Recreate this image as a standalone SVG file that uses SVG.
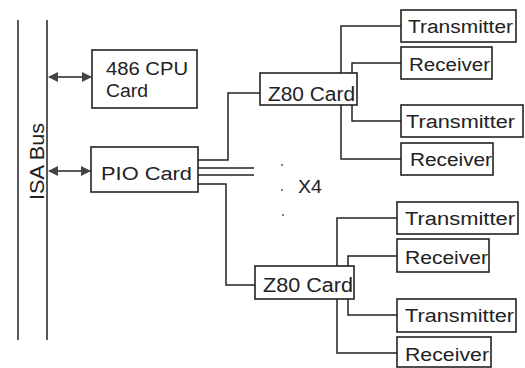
<svg xmlns="http://www.w3.org/2000/svg" width="525" height="368" viewBox="0 0 525 368">
<defs>
<style>
.bx{fill:#fff;stroke:#222;stroke-width:1.6}
.ln{fill:none;stroke:#222;stroke-width:1.5}
.t{font-family:"Liberation Sans",Arial,sans-serif;font-size:18px;fill:#222}
.big{font-size:20px}
</style>
<marker id="ah" viewBox="0 0 10 10" refX="9" refY="5" markerWidth="10" markerHeight="10" markerUnits="userSpaceOnUse" orient="auto-start-reverse">
<path d="M0,0 L10,5 L0,10 Z" fill="#444"/>
</marker>
</defs>
<rect width="525" height="368" fill="#fff"/>
<g id="isa-bus">
<line class="ln" x1="18" y1="20" x2="18" y2="340"/>
<line class="ln" x1="47" y1="20" x2="47" y2="340"/>
<text class="t big" x="44" y="161.5" text-anchor="middle" transform="rotate(-90 44 161.5)" textLength="77" lengthAdjust="spacingAndGlyphs">ISA Bus</text>
</g>
<g id="connectors">
<line class="ln" x1="49" y1="77" x2="91" y2="77" stroke="#444" stroke-width="2" marker-start="url(#ah)" marker-end="url(#ah)"/>
<line class="ln" x1="49" y1="171" x2="90" y2="171" stroke="#444" stroke-width="2" marker-start="url(#ah)" marker-end="url(#ah)"/>
<polyline class="ln" points="198,160 228,160 228,93 260,93"/>
<line class="ln" x1="198" y1="168" x2="254" y2="168"/>
<line class="ln" x1="198" y1="175" x2="254" y2="175"/>
<polyline class="ln" points="198,184 226,184 226,285 255,285"/>
<polyline class="ln" points="401,26 341,26 341,159 401,159"/>
<polyline class="ln" points="401,63 352,63 352,121 401,121"/>
<polyline class="ln" points="397,218 337,218 337,353 397,353"/>
<polyline class="ln" points="397,256 348,256 348,315 397,315"/>
</g>
<g id="cpu">
<rect class="bx" x="92" y="50" width="105" height="58"/>
<text class="t" x="106" y="75" textLength="82" lengthAdjust="spacingAndGlyphs">486 CPU</text>
<text class="t" x="106" y="97" textLength="42" lengthAdjust="spacingAndGlyphs">Card</text>
</g>
<g id="pio">
<rect class="bx" x="91" y="147" width="107" height="45"/>
<text class="t" x="101" y="180" textLength="91" lengthAdjust="spacingAndGlyphs">PIO Card</text>
</g>
<g id="multiplier">
<circle cx="282" cy="165" r="1" fill="#555"/>
<circle cx="282" cy="190" r="1" fill="#555"/>
<circle cx="283" cy="215" r="1" fill="#555"/>
<text class="t" x="298" y="193" font-size="19" textLength="24" lengthAdjust="spacingAndGlyphs">X4</text>
</g>
<g id="z80-1">
<rect class="bx" x="260" y="73" width="97" height="32"/>
<text class="t big" x="268" y="101" textLength="87" lengthAdjust="spacingAndGlyphs">Z80 Card</text>
</g>
<g id="tx-1">
<rect class="bx" x="401" y="10" width="115" height="32"/>
<text class="t" x="408" y="33" textLength="105" lengthAdjust="spacingAndGlyphs">Transmitter</text>
</g>
<g id="rx-1">
<rect class="bx" x="401" y="47" width="91" height="32"/>
<text class="t" x="409" y="71" textLength="81" lengthAdjust="spacingAndGlyphs">Receiver</text>
</g>
<g id="tx-2">
<rect class="bx" x="401" y="105" width="122" height="32"/>
<text class="t" x="406" y="128" textLength="109" lengthAdjust="spacingAndGlyphs">Transmitter</text>
</g>
<g id="rx-2">
<rect class="bx" x="401" y="143" width="92" height="32"/>
<text class="t" x="410" y="166" textLength="82" lengthAdjust="spacingAndGlyphs">Receiver</text>
</g>
<g id="z80-2">
<rect class="bx" x="255" y="266" width="99" height="33"/>
<text class="t big" x="263" y="292" textLength="90" lengthAdjust="spacingAndGlyphs">Z80 Card</text>
</g>
<g id="tx-3">
<rect class="bx" x="397" y="202" width="121" height="32"/>
<text class="t" x="405" y="225" textLength="110" lengthAdjust="spacingAndGlyphs">Transmitter</text>
</g>
<g id="rx-3">
<rect class="bx" x="397" y="239" width="92" height="33"/>
<text class="t" x="405" y="264" textLength="83" lengthAdjust="spacingAndGlyphs">Receiver</text>
</g>
<g id="tx-4">
<rect class="bx" x="397" y="299" width="119" height="33"/>
<text class="t" x="405" y="322" textLength="109" lengthAdjust="spacingAndGlyphs">Transmitter</text>
</g>
<g id="rx-4">
<rect class="bx" x="397" y="337" width="94" height="30"/>
<text class="t" x="405" y="361" textLength="84" lengthAdjust="spacingAndGlyphs">Receiver</text>
</g>
</svg>
